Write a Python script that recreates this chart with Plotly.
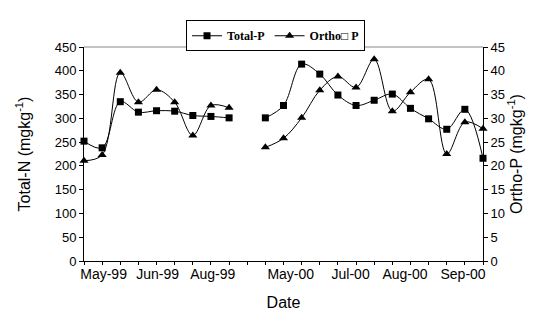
import plotly.graph_objects as go

# category index 0..22 (index 9 is an empty gap between the two seasons)
categories = list(range(23))
total_p = [252, 238, 335, 313, 316, 315, 306, 304, 301, None,
           301, 327, 414, 393, 349, 327, 338, 351, 321, 299, 277, 319, 216]
ortho_p = [21.1, 22.3, 39.6, 33.4, 36.0, 33.4, 26.4, 32.7, 32.2, None,
           23.9, 25.8, 30.1, 35.9, 38.8, 36.5, 42.4, 31.5, 35.5, 38.2, 22.5, 29.2, 27.8]
tick_labels = ["May-99", "Jun-99", "Aug-99", "May-00", "Jul-00", "Aug-00", "Sep-00"]
tick_positions = [1.08, 4.06, 7.1, 11.4, 14.7, 17.7, 20.9]

font_sans = "Liberation Sans, Arial, sans-serif"

fig = go.Figure()
fig.add_trace(go.Scatter(
    x=categories, y=total_p, name="Total-P", mode="lines+markers",
    line=dict(color="black", width=1, shape="spline", smoothing=1),
    marker=dict(symbol="square", size=7, color="black"),
    cliponaxis=False, connectgaps=False, yaxis="y"))
fig.add_trace(go.Scatter(
    x=categories, y=ortho_p, name="Ortho\u25a1 P", mode="lines+markers",
    line=dict(color="black", width=1, shape="spline", smoothing=1),
    marker=dict(symbol="triangle-up", size=8, color="black"),
    cliponaxis=False, connectgaps=False, yaxis="y2"))

fig.update_layout(
    width=536, height=321,
    margin=dict(l=76, r=61, t=36, b=68),
    paper_bgcolor="white", plot_bgcolor="white",
    font=dict(family=font_sans, color="black", size=13),
    showlegend=True,
    legend=dict(orientation="h", x=0.48, xanchor="center", y=1.125, yanchor="top",
                bordercolor="black", borderwidth=1, bgcolor="white",
                font=dict(family="Liberation Serif, Times New Roman, serif", size=12, color="black", weight="bold"),
                itemwidth=30, tracegroupgap=0),
    xaxis=dict(range=[0, 22], showgrid=False, zeroline=False,
               showline=True, linecolor="black", linewidth=1,
               tickmode="array", tickvals=tick_positions, ticktext=tick_labels,
               ticks="", tickfont=dict(size=14),
               minor=dict(tickmode="linear", tick0=0, dtick=1, ticks="outside",
                          ticklen=3, tickcolor="black", showgrid=False),
               title=dict(text="Date", font=dict(size=16), standoff=16)),
    yaxis=dict(range=[0, 450], dtick=50, showgrid=False, zeroline=False,
               showline=True, linecolor="black", linewidth=1,
               ticks="outside", ticklen=4, tickcolor="black", tickfont=dict(size=13),
               title=dict(text="Total-N (mgkg<sup>-1</sup>)", font=dict(size=16), standoff=20)),
    yaxis2=dict(range=[0, 45], dtick=5, overlaying="y", side="right",
                showgrid=False, zeroline=False,
                showline=True, linecolor="black", linewidth=1,
                ticks="outside", ticklen=4, tickcolor="black", tickfont=dict(size=13),
                title=dict(text="Ortho-P (mgkg<sup>-1</sup>)", font=dict(size=16), standoff=6)),
    shapes=[dict(type="line", xref="paper", yref="paper", x0=0, x1=1, y0=1, y1=1,
                 line=dict(color="#888888", width=1))],
)

fig.write_html("out.html")
